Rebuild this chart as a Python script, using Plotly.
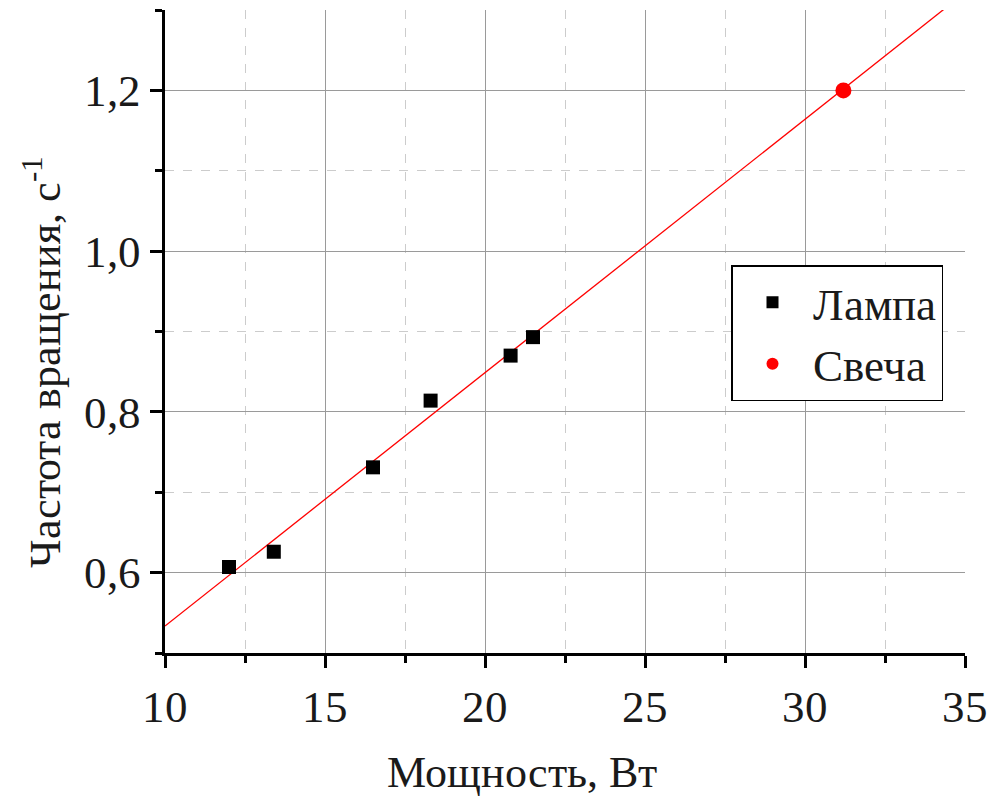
import base64
import glob
import json

import numpy as np
import plotly.graph_objects as go

# Data
lamp_power = [12.0, 13.4, 16.5, 18.3, 20.8, 21.5]
lamp_freq = [0.607, 0.626, 0.731, 0.814, 0.870, 0.893]
candle_power = [31.2]
candle_freq = [1.20]

x_range = [10, 35]
y_range = [0.5, 1.3]

# Linear fit over lamp points
slope, intercept = np.polyfit(lamp_power, lamp_freq, 1)
fit_x = np.array(x_range, dtype=float)
fit_y = intercept + slope * fit_x

# Try to embed the local Liberation Serif file so the browser uses it for sure
font_files = []
for root in ("/usr/share/fonts", "/usr/local/share/fonts", "/usr/share/fonts/truetype"):
    font_files += glob.glob(root + "/**/LiberationSerif-Regular.ttf", recursive=True)
post_js = None
if font_files:
    with open(font_files[0], "rb") as fh:
        b64 = base64.b64encode(fh.read()).decode("ascii")
    FONT = "RefSerif"
    post_js = (
        "var gd = document.getElementById('{plot_id}');"
        "var ff = new FontFace('RefSerif', " + json.dumps("url(data:font/ttf;base64," + b64 + ")") + ");"
        "ff.load().then(function(f){ document.fonts.add(f); return Plotly.redraw(gd); });"
    )
else:
    FONT = "Liberation Serif"

TXT = "#1a1a1a"

fig = go.Figure()
fig.add_trace(go.Scatter(x=fit_x, y=fit_y, mode="lines",
                         line=dict(color="#ff0000", width=1.3),
                         showlegend=False, hoverinfo="skip"))
fig.add_trace(go.Scatter(x=lamp_power, y=lamp_freq, mode="markers", name="Лампа",
                         marker=dict(symbol="square", size=14, color="black")))
fig.add_trace(go.Scatter(x=candle_power, y=candle_freq, mode="markers", name="Свеча",
                         marker=dict(symbol="circle", size=16, color="#ff0000")))

axis_common = dict(
    showline=True, linecolor="black", linewidth=3,
    ticks="outside", ticklen=12, tickwidth=3, tickcolor="black",
    showgrid=True, gridcolor="#9a9a9a", gridwidth=1.3,
    zeroline=False, mirror=False, automargin=False,
    tickfont=dict(family=FONT, size=45, color=TXT),
)

fig.update_xaxes(range=x_range, dtick=5, tick0=10,
                 minor=dict(dtick=2.5, ticks="outside", ticklen=7, tickwidth=3,
                            tickcolor="black", showgrid=True, gridcolor="#cccccc",
                            griddash="dash", gridwidth=1),
                 **axis_common)
fig.update_yaxes(range=y_range, dtick=0.2, tick0=0.6, tickformat=".1f",
                 minor=dict(dtick=0.1, ticks="outside", ticklen=7, tickwidth=3,
                            tickcolor="black", showgrid=True, gridcolor="#cccccc",
                            griddash="dash", gridwidth=1),
                 **axis_common)

# page body has an 8px offset; figure coords = screen - 8
fig.update_layout(
    template="none",
    width=989, height=795,
    margin=dict(l=157, r=32, t=2, b=150, autoexpand=False),
    plot_bgcolor="white", paper_bgcolor="white",
    separators=", ",
    font=dict(family=FONT, color=TXT),
    showlegend=True,
    legend=dict(x=(731 - 165) / 800, y=(653 - 265) / 643, xanchor="left", yanchor="top",
                bgcolor="white", bordercolor="black", borderwidth=1.5,
                font=dict(family=FONT, size=45, color=TXT),
                itemsizing="constant", itemwidth=70, tracegroupgap=0),
    annotations=[
        dict(text="Мощность, Вт", xref="paper", yref="paper",
             x=(522 - 165) / 800, y=-(772 - 653) / 643,
             xanchor="center", yanchor="middle", showarrow=False,
             font=dict(family=FONT, size=44, color=TXT)),
        dict(text="Частота вращения, с<sup>-1</sup>", xref="paper", yref="paper",
             x=-(165 - 42) / 800, y=(653 - 362) / 643, textangle=-90,
             xanchor="center", yanchor="middle", showarrow=False,
             font=dict(family=FONT, size=44, color=TXT)),
    ],
)

if post_js:
    fig.write_html("out.html", post_script=post_js)
else:
    fig.write_html("out.html")
